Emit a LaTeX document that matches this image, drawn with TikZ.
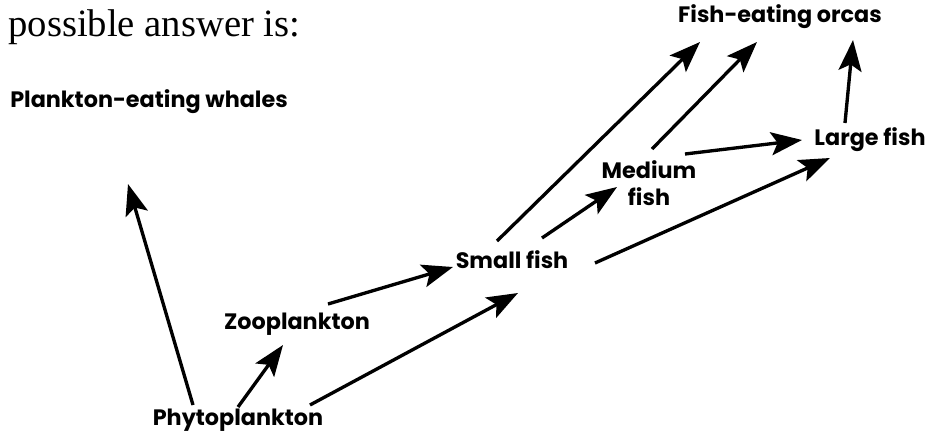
\documentclass[tikz,border=0pt]{standalone}
\usepackage{fontspec}
\setsansfont{Poppins}
\newfontfamily\bookfont{Liberation Serif}
\usetikzlibrary{arrows.meta,calc}

\tikzset{
  species/.style={font=\sffamily\bfseries\fontsize{12.7}{15.5}\selectfont, inner sep=0pt, align=center},
  feeds/.style={-{Stealth[length=0.62cm,width=0.46cm,inset=0.13cm]}, line width=1.9pt}
}

\begin{document}
\begin{tikzpicture}[x=0.02cm,y=-0.02cm]
  \useasboundingbox (0,0) rectangle (931,437);

  % ── heading ──
  \node[font=\bookfont\fontsize{22}{26}\selectfont, anchor=west, inner sep=0pt] (head) at (8,27) {possible answer is:};

  % ── organisms ──
  \node[species] (whales) at (149,102) {Plankton-eating whales};
  \node[species] (orcas)  at (780,17)  {Fish-eating orcas};
  \node[species] (large)  at (870,140) {Large fish};
  \node[species] (medium) at (649,183) {Medium\\fish};
  \node[species] (small)  at (512,260) {Small fish};
  \node[species] (zoo)    at (297,324) {Zooplankton};
  \node[species] (phyto)  at (238,420) {Phytoplankton};

  % ── who eats whom ──
  \draw[feeds] ($(phyto)+(-45,-15)$) -- ($(whales)+(-21,82)$);
  \draw[feeds] ($(phyto)+(0,-13)$)   -- ($(zoo)+(-14,21)$);
  \draw[feeds] ($(phyto)+(72,-15)$)  -- ($(small)+(6,33)$);
  \draw[feeds] ($(zoo)+(31,-20)$)    -- ($(small)+(-59,7)$);
  \draw[feeds] ($(small)+(30,-22)$)  -- ($(medium)+(-32,4)$);
  \draw[feeds] ($(small)+(-15,-19)$) -- ($(orcas)+(-80,25)$);
  \draw[feeds] ($(medium)+(3,-34)$)  -- ($(orcas)+(-23,25)$);
  \draw[feeds] ($(medium)+(36,-29)$) -- ($(large)+(-68,0)$);
  \draw[feeds] ($(small)+(83,3)$)    -- ($(large)+(-40,18)$);
  \draw[feeds] ($(large)+(-25,-17)$) -- ($(orcas)+(73,23)$);

\end{tikzpicture}
\end{document}
